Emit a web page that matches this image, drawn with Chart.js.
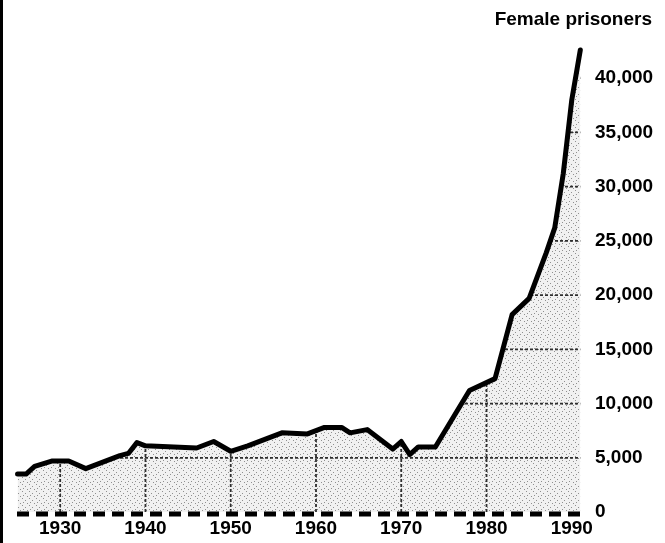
<!DOCTYPE html>
<html>
<head>
<meta charset="utf-8">
<script src="https://cdn.jsdelivr.net/npm/chart.js@4.4.0/dist/chart.umd.min.js"></script>
<style>
  html, body { margin: 0; padding: 0; background: #fff; }
  #wrap { width: 665px; height: 543px; }
</style>
</head>
<body>
<div id="wrap"><canvas id="myChart" width="665" height="543"></canvas></div>
<script>
// dados
const years = [1925, 1926, 1927, 1929, 1931, 1933, 1937, 1938, 1939, 1940, 1946, 1948, 1950, 1952,
  1956, 1959, 1961, 1963, 1964, 1966, 1969, 1970, 1971, 1972, 1974, 1978, 1981, 1983, 1985,
  1987, 1988, 1989, 1990, 1991];
const prisoners = [3500, 3500, 4200, 4700, 4700, 4000, 5200, 5400, 6400, 6100, 5900, 6500, 5600, 6100,
  7300, 7200, 7800, 7800, 7300, 7600, 5800, 6500, 5300, 6000, 6000, 11200, 12300, 18200, 19700,
  23900, 26200, 31200, 38000, 42600];
const yearTicks = [1930, 1940, 1950, 1960, 1970, 1980, 1990];
const valueTicks = [0, 5000, 10000, 15000, 20000, 25000, 30000, 35000, 40000];
const gridYears = [1930, 1940, 1950, 1960, 1970, 1980];
const gridValues = [5000, 10000, 15000, 20000, 25000, 30000, 35000, 40000];
const titleText = 'Female prisoners';

const fontFam = "'Liberation Sans', Arial, sans-serif";

// textura pontilhada da area
function makePattern() {
  const c = document.createElement('canvas');
  c.width = 7; c.height = 7;
  const g = c.getContext('2d');
  g.fillStyle = '#f1f1f1';
  g.fillRect(0, 0, 7, 7);
  g.fillStyle = '#909090';
  [[1, 1], [4, 3], [2, 5], [6, 6]].forEach(p => g.fillRect(p[0], p[1], 1, 1));
  return g.createPattern(c, 'repeat');
}

// grade desenhada so dentro da area preenchida
const gridUnder = {
  id: 'gridUnder',
  beforeDatasetsDraw(chart) {
    const ctx = chart.ctx;
    const meta = chart.getDatasetMeta(0);
    const xs = chart.scales.x, ys = chart.scales.y;
    const area = chart.chartArea;
    const pts = meta.data;
    ctx.save();
    ctx.beginPath();
    ctx.moveTo(pts[0].x, area.bottom);
    pts.forEach(p => ctx.lineTo(p.x, p.y));
    ctx.lineTo(pts[pts.length - 1].x, area.bottom);
    ctx.closePath();
    ctx.clip();
    ctx.strokeStyle = '#2e2e2e';
    ctx.lineWidth = 1.8;
    ctx.setLineDash([3, 2]);
    const vx = gridYears.map(v => xs.getPixelForValue(v)).concat([area.left + 1, area.right - 1]);
    vx.forEach(x => {
      ctx.beginPath();
      ctx.moveTo(x, area.top);
      ctx.lineTo(x, area.bottom);
      ctx.stroke();
    });
    gridValues.forEach(v => {
      const y = ys.getPixelForValue(v);
      ctx.beginPath();
      ctx.moveTo(area.left, y);
      ctx.lineTo(area.right, y);
      ctx.stroke();
    });
    ctx.restore();
  },
  afterDraw(chart) {
    const ctx = chart.ctx;
    const area = chart.chartArea;
    const y0 = chart.scales.y.getPixelForValue(0) + 2;
    ctx.save();
    // linha tracejada da base
    ctx.strokeStyle = '#000';
    ctx.lineWidth = 5;
    ctx.setLineDash([12, 7]);
    ctx.beginPath();
    ctx.moveTo(area.left + 2, y0);
    ctx.lineTo(area.right, y0);
    ctx.stroke();
    ctx.setLineDash([]);
    ctx.fillStyle = '#000';
    ctx.fillRect(0, 0, 3, chart.height);
    ctx.font = "bold 19px 'Liberation Sans', Arial, sans-serif";
    ctx.textAlign = 'right';
    ctx.textBaseline = 'alphabetic';
    ctx.fillText(titleText, 652, 25);
    ctx.restore();
  }
};

const Grafico = document.getElementById('myChart');
new Chart(Grafico, {
  type: 'line',
  data: {
    datasets: [{
      data: years.map((y, i) => ({ x: y, y: prisoners[i] })),
      borderColor: '#000',
      borderWidth: 5,
      borderJoinStyle: 'round',
      borderCapStyle: 'round',
      backgroundColor: makePattern(),
      fill: 'origin',
      pointRadius: 0,
      tension: 0
    }]
  },
  options: {
    responsive: false,
    animation: false,
    layout: { padding: { left: 15, top: 24, right: 0, bottom: 0 } },
    plugins: {
      legend: { display: false },
      tooltip: { enabled: false },
      filler: { drawTime: 'beforeDatasetsDraw' }
    },
    scales: {
      x: {
        type: 'linear',
        min: 1924.7,
        max: 1991.55,
        afterBuildTicks: s => { s.ticks = yearTicks.map(v => ({ value: v })); },
        afterFit: s => { s.height = 31; },
        grid: { display: false, drawTicks: false },
        border: { display: false },
        ticks: {
          padding: 5,
          color: '#000',
          maxRotation: 0,
          font: { family: fontFam, size: 19, weight: 'bold' },
          callback: v => String(v)
        }
      },
      y: {
        position: 'right',
        min: 0,
        max: 45000,
        afterBuildTicks: s => { s.ticks = valueTicks.map(v => ({ value: v })); },
        afterFit: s => { s.width = 80; },
        grid: { display: false, drawTicks: false },
        border: { display: false },
        ticks: {
          padding: 10,
          color: '#000',
          font: { family: fontFam, size: 19, weight: 'bold' },
          callback: v => v.toLocaleString('en-US')
        }
      }
    }
  },
  plugins: [gridUnder]
});
</script>
</body>
</html>
